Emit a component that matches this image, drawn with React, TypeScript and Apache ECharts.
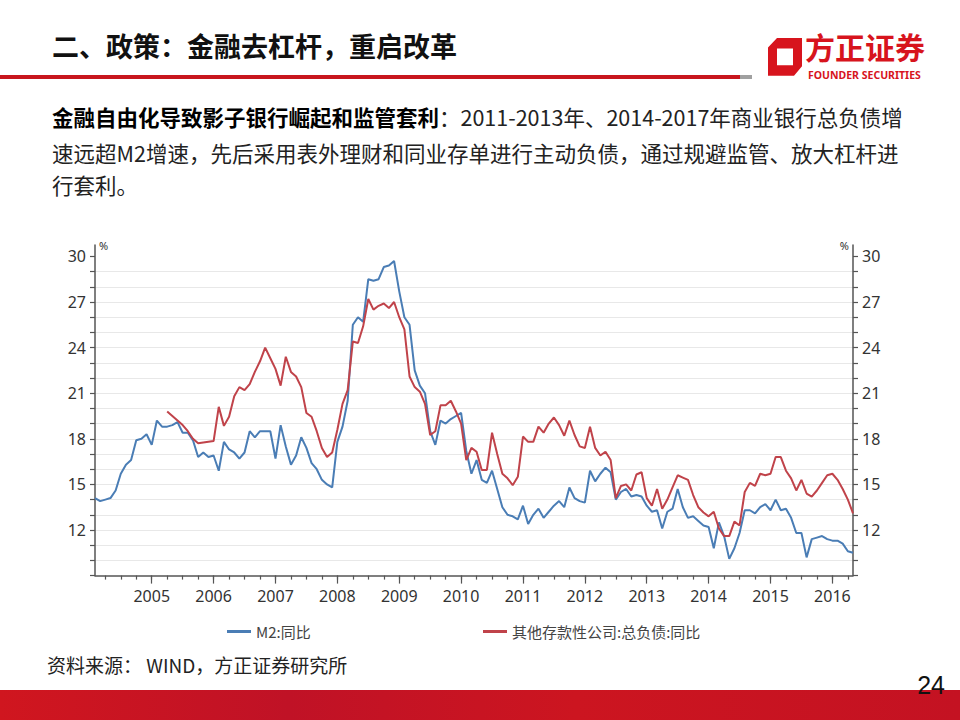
import React, { useEffect, useRef } from "react";
import * as echarts from "echarts";

// ---- data ----
const START_YEAR = 2005;
const m2Yoy: number[] = [
  14.1, 13.9, 14.0, 14.1, 14.6, 15.7, 16.3, 16.6, 17.9, 18.0, 18.3, 17.6,
  19.2, 18.8, 18.8, 18.9, 19.1, 18.4, 18.4, 17.9, 16.8, 17.1, 16.8, 16.9,
  15.9, 17.8, 17.3, 17.1, 16.7, 17.1, 18.5, 18.1, 18.5, 18.5, 18.5, 16.7,
  18.9, 17.5, 16.3, 16.9, 18.1, 17.4, 16.4, 16.0, 15.3, 15.0, 14.8, 17.8,
  18.8, 20.5, 25.5, 26.0, 25.7, 28.5, 28.4, 28.5, 29.3, 29.4, 29.7, 27.7,
  26.0, 25.5, 22.5, 21.5, 21.0, 18.5, 17.6, 19.2, 19.0, 19.3, 19.5, 19.7,
  17.2, 15.7, 16.6, 15.3, 15.1, 15.9, 14.7, 13.5, 13.0, 12.9, 12.7, 13.6,
  12.4, 13.0, 13.4, 12.8, 13.2, 13.6, 13.9, 13.5, 14.8, 14.1, 13.9, 13.8,
  15.9, 15.2, 15.7, 16.1, 15.8, 14.0, 14.5, 14.7, 14.2, 14.3, 14.2, 13.6,
  13.2, 13.3, 12.1, 13.2, 13.4, 14.7, 13.5, 12.8, 12.9, 12.6, 12.3, 12.2,
  10.8, 12.5, 11.6, 10.1, 10.8, 11.8, 13.3, 13.3, 13.1, 13.5, 13.7, 13.3,
  14.0, 13.3, 13.4, 12.8, 11.8, 11.8, 10.2, 11.4, 11.5, 11.6, 11.4, 11.3,
  11.3, 11.1, 10.6, 10.5,
];
const otherDepositoryLiabYoy: (number | null)[] = [
  null, null, null, null, null, null, null, null, null, null, null, null,
  null, null, 19.8, 19.5, 19.2, 18.9, 18.5, 18.0, 17.7, 17.75, 17.8, 17.85,
  20.1, 18.85, 19.45, 20.8, 21.4, 21.2, 21.6, 22.4, 23.1, 24.0, 23.3, 22.6,
  21.5, 23.4, 22.4, 22.1, 21.4, 19.7, 19.45, 18.5, 17.4, 16.8, 17.1, 18.6,
  20.3, 21.2, 24.4, 24.3, 25.4, 27.2, 26.5, 26.75, 26.9, 26.6, 27.0, 26.0,
  25.2, 22.1, 21.4, 21.1, 20.3, 18.25, 18.5, 20.2, 20.2, 20.5, 19.8, 19.0,
  16.6, 17.4, 17.15, 15.95, 15.95, 18.4, 17.0, 15.7, 15.4, 14.95, 15.5, 18.15,
  17.8, 17.8, 18.8, 18.4, 19.0, 19.4, 18.9, 18.2, 19.2, 18.25, 17.5, 17.4,
  18.8, 17.4, 16.9, 17.15, 16.6, 14.1, 14.9, 15.0, 14.6, 15.65, 15.8, 14.1,
  13.6, 14.7, 13.4, 14.0, 14.8, 15.6, 15.45, 15.3, 14.3, 13.5, 13.15, 12.9,
  13.2, 12.1, 11.6, 11.6, 12.55, 12.3, 14.5, 15.1, 14.9, 15.7, 15.6, 15.7,
  16.8, 16.8, 15.9, 15.4, 14.6, 15.3, 14.4, 14.2, 14.6, 15.1, 15.6, 15.7,
  15.3, 14.7, 14.0, 13.1,
];
const yTickValues: number[] = [9, 10, 11, 12, 13, 14, 15, 16, 17, 18, 19, 20, 21, 22, 23, 24, 25, 26, 27, 28, 29, 30];
const yLabelValues: number[] = [12, 15, 18, 21, 24, 27, 30];
const SERIES_M2 = "M2:同比";
const SERIES_OTHER = "其他存款性公司:总负债:同比";

const months: string[] = m2Yoy.map(
  (_, i) => `${START_YEAR + Math.floor(i / 12)}-${String((i % 12) + 1).padStart(2, "0")}`
);

const CJK = '"Noto Sans CJK SC", "Noto Sans", sans-serif';
const NUM = '"Noto Sans", "Open Sans", sans-serif';
const AXIS_COLOR = "#555555";

echarts.graphic.registerShape(
  "founderLogo",
  echarts.graphic.extendPath("M9 0 H34 V27 L26 36 H0 V9 Z M9 10 V26 H25 V10 Z", {})
);

export default function App() {
  const ref = useRef<HTMLDivElement>(null);
  useEffect(() => {
    if (!ref.current) return;
    const chart = echarts.init(ref.current, null, { renderer: "svg" });
    const yAxisBase = (pos: "left" | "right") => ({
      type: "value",
      position: pos,
      min: 9,
      max: 30.75,
      interval: 3,
      name: "%",
      nameLocation: "end",
      nameGap: 0,
      nameTextStyle: {
        fontSize: 11,
        color: "#333",
        fontFamily: NUM,
        align: pos === "left" ? "left" : "right",
        verticalAlign: "middle",
        padding: pos === "left" ? [0, 0, 0, 4] : [0, 4, 0, 0],
      },
      axisLine: { show: true, lineStyle: { color: AXIS_COLOR, width: 1.5 } },
      axisTick: {
        show: true,
        length: 5,
        customValues: yTickValues,
        lineStyle: { color: AXIS_COLOR, width: 1.2 },
      },
      axisLabel: {
        customValues: yLabelValues,
        margin: 9,
        fontSize: 16,
        color: "#333",
        fontFamily: NUM,
      },
      splitLine: {
        show: pos === "left",
        showMinLine: false,
        showMaxLine: false,
        lineStyle: { color: "#e8e8e8", width: 1 },
      },
    });
    chart.setOption({
      animation: false,
      backgroundColor: "#ffffff",
      textStyle: { fontFamily: CJK },
      grid: { left: 95, right: 107, top: 245, bottom: 144.4, containLabel: false },
      legend: [
        {
          data: [SERIES_M2],
          left: 222,
          top: 619,
          icon: "rect",
          itemWidth: 24,
          itemHeight: 3,
          textStyle: { fontSize: 15, color: "#444", fontFamily: CJK },
        },
        {
          data: [SERIES_OTHER],
          left: 478,
          top: 619,
          icon: "rect",
          itemWidth: 24,
          itemHeight: 3,
          textStyle: { fontSize: 15, color: "#444", fontFamily: CJK },
        },
      ],
      xAxis: [
        {
          type: "category",
          data: months,
          boundaryGap: false,
          position: "bottom",
          axisLine: { show: true, onZero: false, lineStyle: { color: AXIS_COLOR, width: 1.5 } },
          axisTick: {
            show: true,
            length: 4,
            interval: (i: number) => i % 3 === 2,
            lineStyle: { color: AXIS_COLOR, width: 1.2 },
          },
          axisLabel: {
            interval: (i: number) => i % 12 === 11,
            formatter: (v: string) => v.slice(0, 4),
            margin: 12,
            fontSize: 16,
            color: "#333",
            fontFamily: NUM,
          },
          splitLine: { show: false },
        },
        {
          type: "category",
          data: months,
          boundaryGap: false,
          position: "bottom",
          axisLine: { show: false, onZero: false },
          axisTick: {
            show: true,
            length: 8,
            interval: (i: number) => i % 12 === 11,
            lineStyle: { color: AXIS_COLOR, width: 1.2 },
          },
          axisLabel: { show: false },
          splitLine: { show: false },
        },
      ],
      yAxis: [yAxisBase("left"), yAxisBase("right")],
      series: [
        {
          name: SERIES_M2,
          type: "line",
          data: m2Yoy,
          xAxisIndex: 0,
          yAxisIndex: 0,
          symbol: "none",
          lineStyle: { color: "#4a7db5", width: 2 },
          itemStyle: { color: "#4a7db5" },
        },
        {
          name: SERIES_OTHER,
          type: "line",
          data: otherDepositoryLiabYoy,
          xAxisIndex: 0,
          yAxisIndex: 0,
          symbol: "none",
          connectNulls: false,
          lineStyle: { color: "#c0434a", width: 2 },
          itemStyle: { color: "#c0434a" },
        },
      ],
      graphic: [
        {
          type: "text",
          left: 52,
          top: 32,
          style: {
            text: "二、政策：金融去杠杆，重启改革",
            font: `bold 27px ${CJK}`,
            fill: "#111",
          },
        },
        { type: "rect", shape: { x: 0, y: 75, width: 742, height: 4 }, style: { fill: "#c8161d" } },
        { type: "rect", shape: { x: 740, y: 75, width: 12, height: 4 }, style: { fill: "#a0a0a0" } },
        {
          type: "founderLogo",
          x: 768,
          y: 38,
          scaleX: 1,
          scaleY: 1.05,
          style: { fill: "#d7141d" },
        },
        {
          type: "text",
          left: 805,
          top: 31,
          style: { text: "方正证券", font: `bold 30px ${CJK}`, fill: "#d7141d" },
        },
        {
          type: "text",
          left: 808,
          top: 69,
          style: { text: "FOUNDER SECURITIES", font: `bold 10.5px ${NUM}`, fill: "#d7141d" },
        },
        {
          type: "text",
          left: 52,
          top: 106,
          style: {
            text: "{b|金融自由化导致影子银行崛起和监管套利}{n|：2011-2013年、2014-2017年商业银行总负债增}",
            rich: {
              b: { font: `bold 21.5px ${CJK}`, fill: "#000" },
              n: { font: `21.5px ${CJK}`, fill: "#222" },
            },
          },
        },
        {
          type: "text",
          left: 52,
          top: 142,
          style: {
            text: "速远超M2增速，先后采用表外理财和同业存单进行主动负债，通过规避监管、放大杠杆进",
            font: `21.5px ${CJK}`,
            fill: "#222",
          },
        },
        {
          type: "text",
          left: 52,
          top: 174,
          style: { text: "行套利。", font: `21.5px ${CJK}`, fill: "#222" },
        },
        {
          type: "text",
          left: 47,
          top: 655,
          style: { text: "资料来源： WIND，方正证券研究所", font: `19px ${CJK}`, fill: "#222" },
        },
        {
          type: "rect",
          shape: { x: 0, y: 690, width: 960, height: 30 },
          style: {
            fill: new echarts.graphic.LinearGradient(0, 0, 1, 0, [
              { offset: 0, color: "#d0161f" },
              { offset: 0.3, color: "#c01226" },
              { offset: 0.6, color: "#cc1520" },
              { offset: 1, color: "#c41222" },
            ]),
          },
        },
        {
          type: "text",
          right: 15,
          top: 672,
          style: { text: "24", font: `25px "Liberation Sans", Arial, sans-serif`, fill: "#111" },
        },
      ],
    });
    return () => chart.dispose();
  }, []);
  return (
    <div
      ref={ref}
      style={{ position: "fixed", left: 0, top: 0, width: 960, height: 720, background: "#fff" }}
    />
  );
}
